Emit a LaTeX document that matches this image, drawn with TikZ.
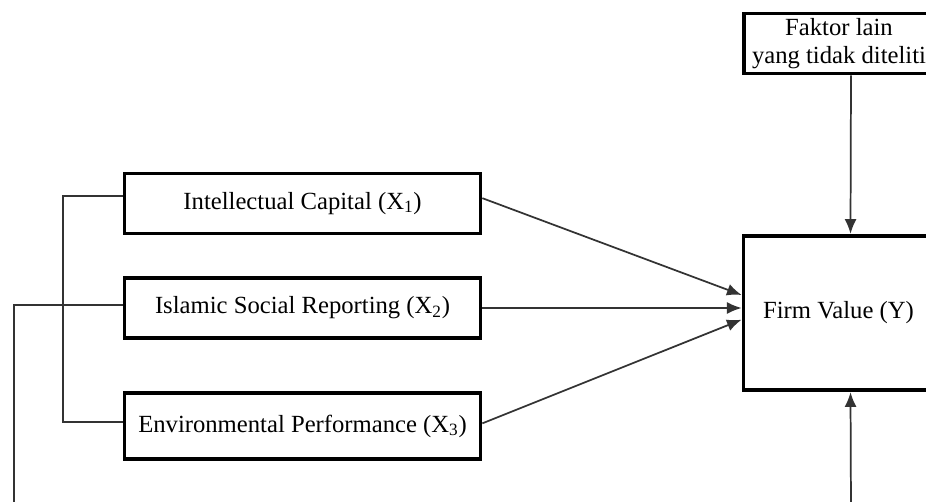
\documentclass[tikz,border=0pt]{standalone}
\usepackage{fontspec}
\setmainfont{Liberation Serif}
\usetikzlibrary{arrows.meta}
\begin{document}
\begin{tikzpicture}[x=0.75pt,y=-0.75pt,
	var/.style={draw,line width=2.8pt,minimum width=267pt,minimum height=45pt,inner sep=0pt,font=\fontsize{18.5}{21}\selectfont},
	link/.style={draw=black!80,line width=1.3pt},
	arr/.style={link,-{Latex[length=11pt,width=9pt]}}]
	\useasboundingbox (0,0) rectangle (926,501);
	\clip (0,0) rectangle (926,501);
	\node [var] (ic) at (302.5,203.5) {Intellectual Capital (X\textsubscript{1})};
	\node [var] (isr) at (302.5,308) {Islamic Social Reporting (X\textsubscript{2})};
	\node [var,minimum height=49pt] (ep) at (302.5,426) {Environmental Performance (X\textsubscript{3})};
	\node [var,minimum width=142.5pt,minimum height=116pt] (fv) at (838.5,313) {Firm Value (Y)};
	\node [var,minimum width=142.5pt,align=center] (lain) at (839,43.5) {Faktor lain\\yang tidak diteliti};
	\coordinate (bot) at (851,510);
	\coordinate (left) at (14,510);
	% arrows into Y
	\draw [arr] ([yshift=4pt]ic.east) -- ([yshift=13.5pt]fv.west);
	\draw [arr] (isr.east) -- ([yshift=3.75pt]fv.west);
	\draw [arr] ([yshift=2pt]ep.east) -- ([yshift=-5pt]fv.west);
	\draw [arr] ([xshift=9pt]lain.south) -- ([xshift=9pt]fv.north);
	\draw [arr] (bot) -- ([xshift=9pt]fv.south);
	% brackets on the left
	\draw [link] ([yshift=5.5pt]ic.west) -- ++(-60,0) |- ([yshift=3pt]ep.west);
	\draw [link] ([yshift=2.5pt]isr.west) -| (left);
\end{tikzpicture}
\end{document}
